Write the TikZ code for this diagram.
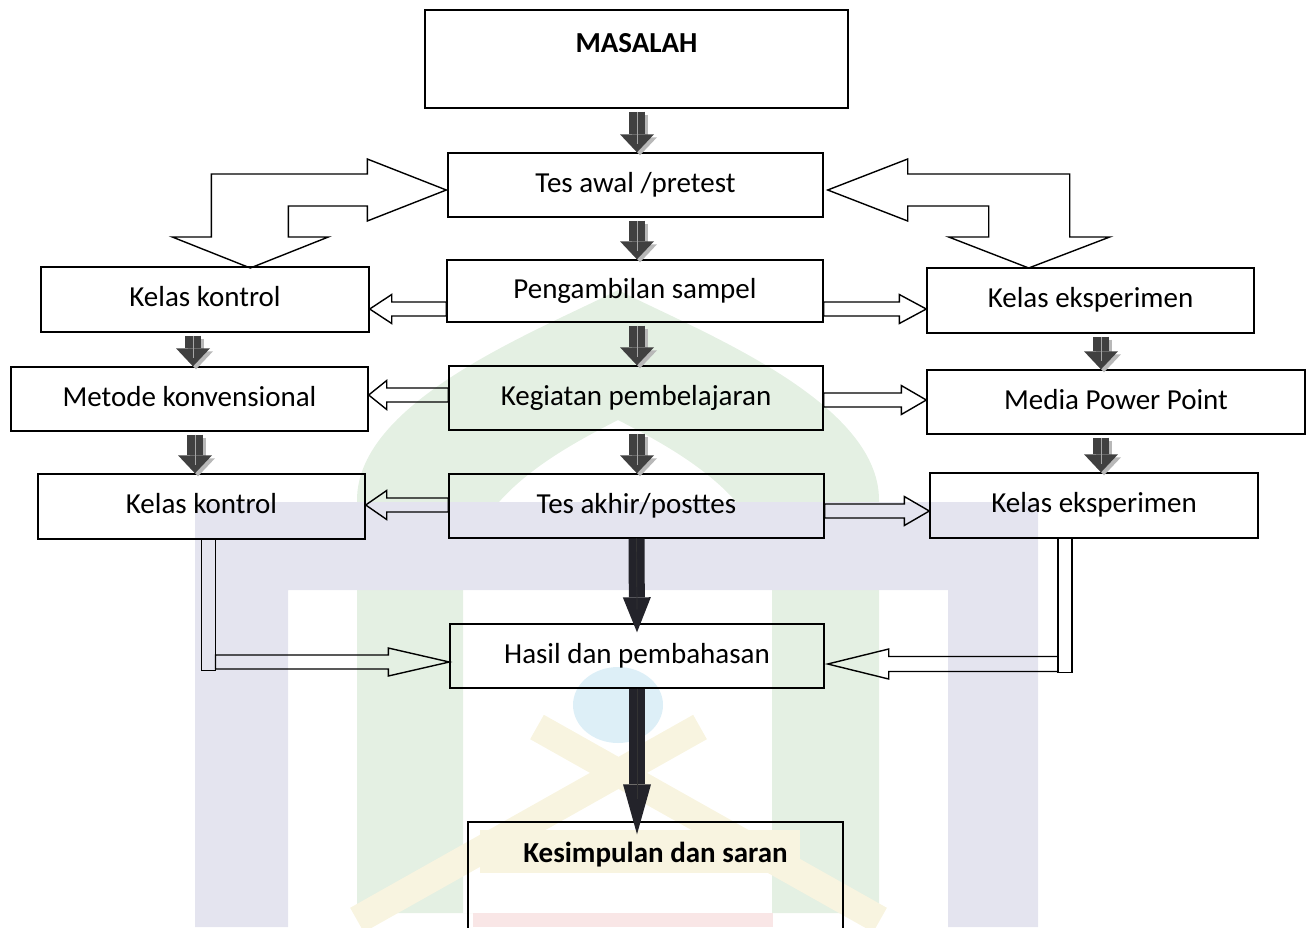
\documentclass[tikz,border=0pt]{standalone}
\usepackage{fontspec}
\setmainfont{Carlito}
\usetikzlibrary{arrows.meta,calc}

\definecolor{arrowdark}{HTML}{404040}
\definecolor{arrowdeep}{HTML}{23232A}
\definecolor{shade}{HTML}{B8B8B8}
\definecolor{wmblue}{HTML}{E4E4EF}
\definecolor{wmgreen}{HTML}{E4F0E3}
\definecolor{wmyellow}{HTML}{F8F4E0}
\definecolor{wmred}{HTML}{F9E6E6}
\definecolor{wmcyan}{HTML}{DDEFF7}

\tikzset{
  stagebox/.style={draw, line width=1.4pt, inner sep=0pt, text height=20pt, text depth=6pt,
    minimum height=64pt, font=\fontsize{29}{34}\selectfont},
  headbox/.style={stagebox, font=\fontsize{29}{34}\selectfont\bfseries},
  darkarrow/.style={line width=16pt, draw=arrowdark, -{Triangle[width=34pt,length=18pt,line width=0pt]}},
  darkshadow/.style={darkarrow, draw=shade, transform canvas={shift={(3pt,-3pt)}}},
  longarrow/.style={line width=16pt, draw=arrowdeep, -{Triangle[width=28pt,length=#1,line width=0pt]}},
  longarrow/.default=35pt,
  glint/.style={draw=gray!70, line width=0.7pt},
  hollow/.style={draw, line width=1.4pt, line join=miter},
}

% outline block arrow from #1 to #2, head length #3
\newcommand{\hollowarr}[3]{%
  \coordinate (hb) at ($(#2)!#3pt!(#1)$);
  \draw[hollow] ($(#1)!7pt!90:(#2)$) -- ($(hb)!7pt!90:(#2)$) -- ($(hb)!14.5pt!90:(#2)$) -- (#2)
    -- ($(hb)!14.5pt!-90:(#2)$) -- ($(hb)!7pt!-90:(#2)$) -- ($(#1)!7pt!-90:(#2)$) -- cycle;}

\begin{document}
\begin{tikzpicture}[x=1pt,y=-1pt]
  \useasboundingbox (0,0) rectangle (1311,927);

  % watermark
  \fill[wmgreen, even odd rule] (357,913) -- (357,500) .. controls (357,400) and (540,330) .. (618,290)
      .. controls (696,330) and (879,400) .. (879,500) -- (879,913) -- cycle
    (463,913) -- (463,590) .. controls (463,500) and (560,450) .. (618,420)
      .. controls (676,450) and (772,500) .. (772,590) -- (772,913) -- cycle;
  \fill[wmblue] (195,502) rectangle (1038,590) (195,590) rectangle (288,927) (948,590) rectangle (1038,927);
  \fill[wmcyan] (618,705) ellipse [x radius=45, y radius=38];
  \draw[wmyellow, line width=28pt] (537,727) -- (880,920) (700,727) -- (357,920);
  \fill[wmyellow] (480,830) rectangle (800,873);
  \fill[wmred] (473,913) rectangle (773,927);

  % middle column
  \node[headbox, minimum width=423pt, text height=42.5pt, text depth=55.5pt] (masalah) at (636.5,59) {MASALAH};
  \node[stagebox, minimum width=375pt] (tesawal) at (635.5,185) {Tes awal /pretest};
  \node[stagebox, minimum width=376pt, minimum height=62pt] (samp) at (635,291) {Pengambilan sampel};
  \node[stagebox, minimum width=374pt] (kegiatan) at (636,398) {Kegiatan pembelajaran};
  \node[stagebox, minimum width=375pt] (tesakhir) at (636.5,506) {Tes akhir/posttes};
  \node[stagebox, minimum width=374pt] (hasil) at (637,656) {Hasil dan pembahasan};
  \node[headbox, minimum width=375pt, text height=40pt, text depth=98pt] (kesimpulan) at (655.5,891) {Kesimpulan dan saran};

  % left column
  \node[stagebox, minimum width=328pt, minimum height=65pt] (kon1) at (205,299.5) {Kelas kontrol};
  \node[stagebox, minimum width=357pt] (metode) at (189.5,399) {Metode konvensional};
  \node[stagebox, minimum width=327pt, minimum height=65pt] (kon2) at (201.5,506.5) {Kelas kontrol};

  % right column
  \node[stagebox, minimum width=327pt, minimum height=65pt] (keks1) at (1090.5,300.5) {Kelas eksperimen};
  \node[stagebox, minimum width=378pt] (media) at (1116,402) {Media Power Point};
  \node[stagebox, minimum width=328pt, minimum height=65pt] (keks2) at (1094,505.5) {Kelas eksperimen};

  % dark arrows
  \foreach \a/\b/\dx in {masalah/tesawal/0.5, tesawal/samp/1.5, samp/kegiatan/2, kegiatan/tesakhir/1,
      kon1/metode/-12, metode/kon2/5.5, keks1/media/10.5, media/keks2/-15}{
    \coordinate (stem) at ($(\a.south)+(\dx,3)$);
    \draw[darkshadow] (stem) -- (stem |- \b.north);
    \draw[darkarrow] (stem) -- (stem |- \b.north);
    \draw[glint] (stem) -- ($(stem |- \b.north)+(0,-8)$);
  }
  \draw[longarrow] (tesakhir.south) -- ($(hasil.north)+(0,9)$);
  \draw[glint, draw=gray!40!black] (tesakhir.south) -- ($(hasil.north)+(0,-14)$);
  \draw[longarrow=50pt] (hasil.south) -- ($(hasil.south |- kesimpulan.north)+(0,13)$);
  \draw[glint, draw=gray!40!black] (hasil.south) -- ($(hasil.south |- kesimpulan.north)+(0,-22)$);

  % outline arrows to the sides
  \foreach \src/\dy/\dst/\hl in {samp.west/18/kon1.east/22, samp.east/18/keks1.west/27,
      kegiatan.west/-3/metode.east/18, kegiatan.east/2/media.west/25,
      tesakhir.west/-1/kon2.east/21, tesakhir.east/5/keks2.west/25}{
    \coordinate (tail) at ($(\src)+(0,\dy)$);
    \coordinate (tip) at (\dst |- tail);
    \hollowarr{tail}{tip}{\hl}
  }

  % turning arrows from the pretest
  \draw[hollow] ($(tesawal.west)+(-1,5)$) -- ++(-79,-31) -- ++(0,15) -- ++(-156,0) -- ++(0,63)
    -- ++(-39,0) -- ++(78,31) -- ++(78,-31) -- ++(-40,0) -- ++(0,-31) -- ++(79,0) -- ++(0,15) -- cycle;
  \draw[hollow] ($(tesawal.east)+(4,5)$) -- ++(80,-31) -- ++(0,15) -- ++(162,0) -- ++(0,63)
    -- ++(40,0) -- ++(-81,31) -- ++(-80,-31) -- ++(40,0) -- ++(0,-31) -- ++(-81,0) -- ++(0,15) -- cycle;

  % elbow arrows to the results
  \draw[hollow] (kon2.south) rectangle ++(14,131);
  \coordinate (lt) at ($(hasil.west)+(0,6)$);
  \coordinate (lb) at ($(kon2.south)+(14,0)$);
  \draw[hollow] (lt) -- ++(-61,-14) -- ++(0,7) -- ($(lb |- lt)+(0,-7)$) -- ($(lb |- lt)+(0,7)$)
    -- ($(lt)+(-61,7)$) -- ++(0,7) -- cycle;
  \draw[hollow] ($(keks2.south)+(-36,0)$) rectangle ++(14,134);
  \coordinate (rt) at ($(hasil.east)+(3,8)$);
  \coordinate (rb) at ($(keks2.south)+(-36,0)$);
  \draw[hollow] (rt) -- ++(61,-15) -- ++(0,7.5) -- ($(rb |- rt)+(0,-7.5)$) -- ($(rb |- rt)+(0,7.5)$)
    -- ($(rt)+(61,7.5)$) -- ++(0,7.5) -- cycle;
\end{tikzpicture}
\end{document}
